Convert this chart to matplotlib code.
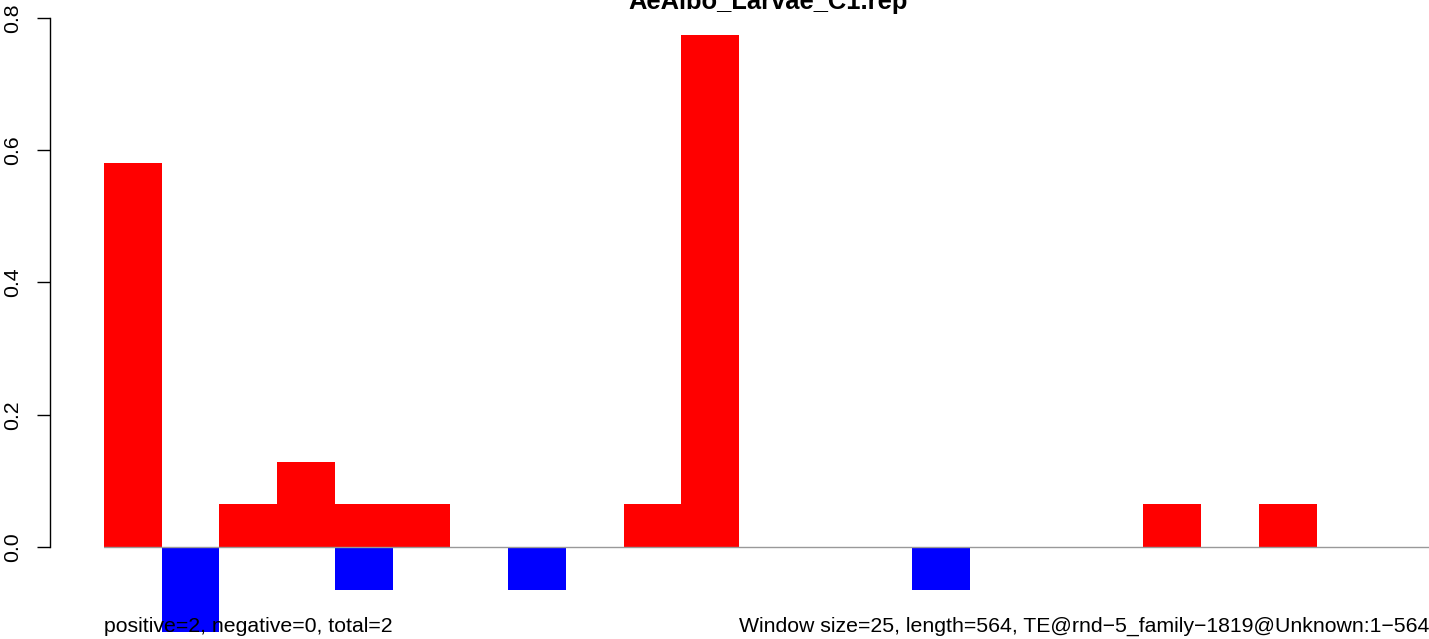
import numpy as np
import matplotlib
matplotlib.use('Agg')
import matplotlib.pyplot as plt

plt.rcParams['font.family'] = ['Liberation Sans', 'DejaVu Sans']

# coverage per window (25 bp windows over 564 bp)
pos_vals = [0.581, 0, 0.065, 0.129, 0.065, 0.065, 0, 0, 0, 0.065, 0.774, 0,
            0, 0, 0, 0, 0, 0, 0.065, 0, 0.065, 0, 0]
neg_vals = [0, -0.129, 0, 0, -0.065, 0, 0, -0.065, 0, 0, 0, 0,
            0, 0, -0.065, 0, 0, 0, 0, 0, 0, 0, 0]
yticks = [0.0, 0.2, 0.4, 0.6, 0.8]
title = 'AeAlbo_Larvae_C1.rep'
left_note = 'positive=2, negative=0, total=2'
right_note = 'Window size=25, length=564, TE@rnd\u22125_family\u22121819@Unknown:1\u2212564'

W, H = 1429, 639
fig = plt.figure(figsize=(W / 100, H / 100), dpi=100)
ax = fig.add_axes([104 / W, 0, 1328 / W, 1])

x = np.arange(len(pos_vals))
ax.bar(x, pos_vals, width=1, align='edge', color='#ff0000', linewidth=0)
ax.bar(x, neg_vals, width=1, align='edge', color='#0000ff', linewidth=0)
ax.axhline(0, color='#999999', linewidth=1.0, zorder=3)

ax.set_xlim(0, len(pos_vals))
ax.set_ylim((547 - 639) / 661.25, 547 / 661.25)

for s in ['top', 'right', 'bottom']:
    ax.spines[s].set_visible(False)
ax.spines['left'].set_position(('outward', 54 * 0.72))
ax.spines['left'].set_bounds(0, 0.8)
ax.spines['left'].set_linewidth(1.0)
ax.set_xticks([])
ax.set_yticks(yticks)
ax.set_yticklabels(['0.0', '0.2', '0.4', '0.6', '0.8'])
ax.tick_params(axis='y', length=13 * 0.72, width=1.0, pad=11, labelsize=15.3,
               labelrotation=90)
for lab in ax.get_yticklabels():
    lab.set_va('center')

fig.text(768 / W, 1 - 9 / H, title, ha='center', va='baseline',
         fontsize=18.4, fontweight='bold')
fig.text(104 / W, 1 - 632 / H, left_note, ha='left', va='baseline', fontsize=15.3)
fig.text(1429 / W, 1 - 632 / H, right_note, ha='right', va='baseline', fontsize=15.3)

fig.savefig('out.png', dpi=100)
